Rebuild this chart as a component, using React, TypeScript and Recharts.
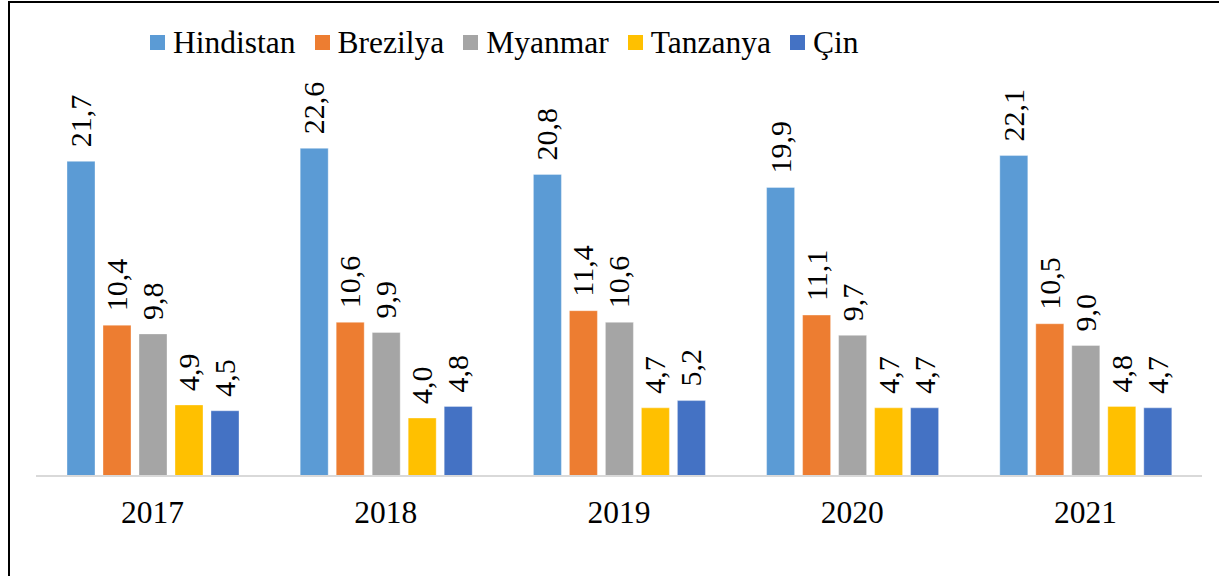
import React from 'react';
import { BarChart, Bar, XAxis, YAxis, Legend, LabelList } from 'recharts';

const years = ['2017', '2018', '2019', '2020', '2021'];
const hindistan = [21.7, 22.6, 20.8, 19.9, 22.1];
const brezilya = [10.4, 10.6, 11.4, 11.1, 10.5];
const myanmar = [9.8, 9.9, 10.6, 9.7, 9.0];
const tanzanya = [4.9, 4.0, 4.7, 4.7, 4.8];
const cin = [4.5, 4.8, 5.2, 4.7, 4.7];

const seriesNames = ['Hindistan', 'Brezilya', 'Myanmar', 'Tanzanya', 'Çin'];
const seriesKeys = ['hindistan', 'brezilya', 'myanmar', 'tanzanya', 'cin'];
const seriesColors = ['#5B9BD5', '#ED7D31', '#A5A5A5', '#FFC000', '#4472C4'];
const seriesValues = [hindistan, brezilya, myanmar, tanzanya, cin];

const data = years.map((y, i) => {
  const row: any = { year: y };
  seriesKeys.forEach((k, j) => {
    row[k] = seriesValues[j][i];
  });
  return row;
});

const FONT = "'Liberation Serif', 'Times New Roman', serif";

const fmt = (v: number) => v.toFixed(1).replace('.', ',');

const renderLabel = (props: any) => {
  const { x, y, width, value } = props;
  const cx = Number(x) + Number(width) / 2;
  const ay = Number(y) - 14;
  return (
    <text
      x={cx}
      y={ay}
      dy={10}
      transform={`rotate(-90, ${cx}, ${ay})`}
      textAnchor="start"
      style={{ fontFamily: FONT, fontSize: 30 }}
      fill="#000"
    >
      {fmt(Number(value))}
    </text>
  );
};

const renderTick = (props: any) => {
  const { x, y, payload } = props;
  return (
    <text x={x} y={y} dy={47} textAnchor="middle" style={{ fontFamily: FONT, fontSize: 31.5 }} fill="#000">
      {payload.value}
    </text>
  );
};

const renderLegend = () => (
  <div style={{ display: 'flex', alignItems: 'center', fontFamily: FONT, fontSize: 31.5, lineHeight: '31.5px', color: '#000', whiteSpace: 'nowrap' }}>
    {seriesNames.map((n, i) => (
      <div key={n} style={{ display: 'flex', alignItems: 'center', marginRight: 19 }}>
        <span style={{ display: 'inline-block', width: 15, height: 15, background: seriesColors[i], marginRight: 8 }} />
        <span>{n}</span>
      </div>
    ))}
  </div>
);

export default function App() {
  return (
    <div
      style={{
        position: 'absolute',
        left: 8,
        top: 1,
        width: 1211,
        height: 575,
        borderLeft: '2px solid #000',
        borderTop: '2px solid #000',
        overflow: 'hidden',
        background: '#fff',
      }}
    >
      <BarChart
        width={1209}
        height={572}
        data={data}
        margin={{ top: 110.5, right: 17, bottom: 69, left: 26 }}
        barSize={28}
        barGap={8}
        style={{ fontFamily: FONT }}
      >
        <YAxis hide domain={[0, 25]} />
        <XAxis
          dataKey="year"
          axisLine={{ stroke: '#D9D9D9', strokeWidth: 2 }}
          tickLine={false}
          tickSize={0}
          tickMargin={0}
          height={30}
          tick={renderTick}
          interval={0}
        />
        <Legend
          verticalAlign="top"
          align="left"
          layout="horizontal"
          content={renderLegend}
          wrapperStyle={{ top: 23.5, left: 140, width: 900, height: 0, overflow: 'visible' }}
        />
        {seriesKeys.map((k, i) => (
          <Bar
            key={k}
            dataKey={k}
            name={seriesNames[i]}
            fill={seriesColors[i]}
            stroke="#ffffff"
            strokeOpacity={0.35}
            strokeWidth={1}
            isAnimationActive={false}
          >
            <LabelList dataKey={k} content={renderLabel} />
          </Bar>
        ))}
      </BarChart>
    </div>
  );
}
